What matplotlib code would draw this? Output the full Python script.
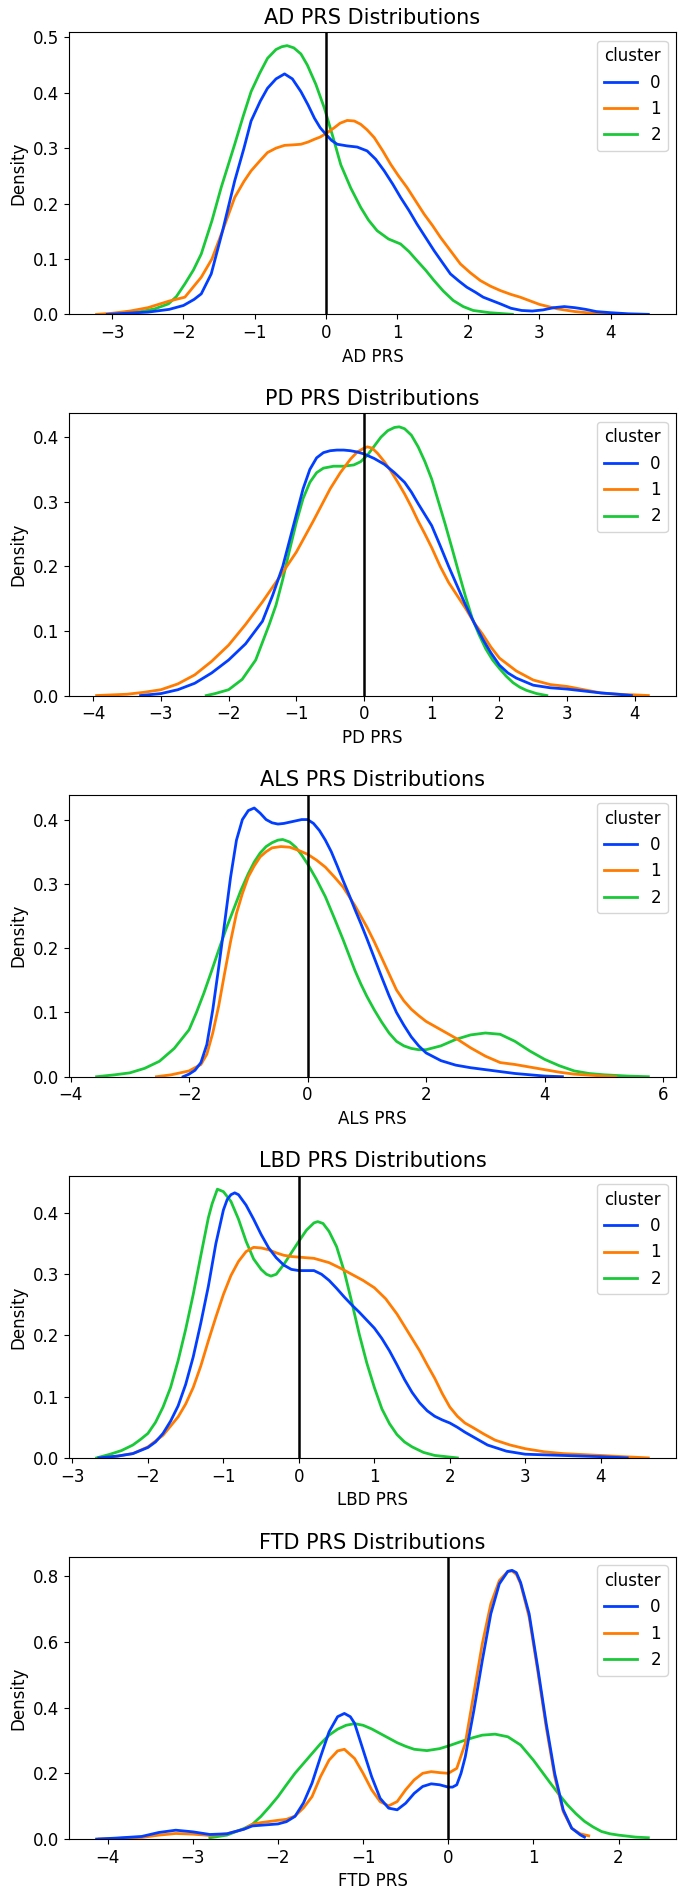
import matplotlib
matplotlib.use("Agg")
import matplotlib.pyplot as plt

# cluster colours (seaborn "bright")
colors = ["#023eff", "#ff7c00", "#1ac938"]
clusters = ["0", "1", "2"]

# density curves, (x, density) pairs per cluster

# ---- AD PRS ----
ad_c0 = [(-3.07, 0), (-2.8, 0.002), (-2.5, 0.004), (-2.2, 0.009), (-2.0, 0.016), (-1.85, 0.027), (-1.75, 0.037),
         (-1.61, 0.073), (-1.45, 0.151), (-1.28, 0.241), (-1.15, 0.3), (-1.05, 0.349), (-0.92, 0.385),
         (-0.82, 0.408), (-0.7, 0.425), (-0.58, 0.434), (-0.47, 0.425), (-0.35, 0.402), (-0.25, 0.378),
         (-0.16, 0.354), (-0.08, 0.337), (0.0, 0.325), (0.08, 0.314), (0.16, 0.307), (0.3, 0.304), (0.44, 0.302),
         (0.58, 0.295), (0.7, 0.28), (0.82, 0.259), (0.94, 0.235), (1.05, 0.211), (1.17, 0.187), (1.28, 0.163),
         (1.4, 0.139), (1.52, 0.115), (1.64, 0.093), (1.75, 0.073), (1.87, 0.06), (1.98, 0.049), (2.1, 0.04),
         (2.21, 0.031), (2.33, 0.025), (2.45, 0.019), (2.6, 0.011), (2.75, 0.007), (2.9, 0.006), (3.05, 0.008),
         (3.2, 0.012), (3.35, 0.014), (3.5, 0.012), (3.65, 0.009), (3.8, 0.005), (4.0, 0.003), (4.25, 0.001),
         (4.53, 0)]
ad_c1 = [(-3.22, 0), (-3.0, 0.002), (-2.75, 0.006), (-2.5, 0.012), (-2.2, 0.024), (-1.98, 0.031), (-1.75, 0.067),
         (-1.6, 0.1), (-1.45, 0.151), (-1.28, 0.211), (-1.15, 0.24), (-1.05, 0.259), (-0.92, 0.278),
         (-0.82, 0.292), (-0.7, 0.3), (-0.58, 0.305), (-0.45, 0.306), (-0.35, 0.307), (-0.25, 0.311),
         (-0.16, 0.316), (-0.08, 0.32), (0.0, 0.326), (0.12, 0.337), (0.2, 0.345), (0.3, 0.35), (0.4, 0.349),
         (0.49, 0.343), (0.58, 0.333), (0.68, 0.319), (0.8, 0.295), (0.91, 0.271), (1.02, 0.25), (1.14, 0.229),
         (1.26, 0.205), (1.38, 0.181), (1.5, 0.16), (1.61, 0.139), (1.75, 0.115), (1.89, 0.091), (2.03, 0.075),
         (2.17, 0.061), (2.31, 0.051), (2.45, 0.043), (2.6, 0.036), (2.73, 0.031), (3.0, 0.018), (3.25, 0.01),
         (3.5, 0.005), (3.75, 0.002), (4.0, 0.001), (4.2, 0)]
ad_c2 = [(-3.05, 0), (-2.8, 0.002), (-2.6, 0.005), (-2.4, 0.01), (-2.21, 0.019), (-2.1, 0.032), (-1.98, 0.055),
         (-1.86, 0.08), (-1.75, 0.109), (-1.6, 0.169), (-1.47, 0.229), (-1.37, 0.27), (-1.28, 0.307),
         (-1.16, 0.358), (-1.05, 0.402), (-0.93, 0.435), (-0.82, 0.462), (-0.7, 0.478), (-0.62, 0.483),
         (-0.545, 0.485), (-0.45, 0.481), (-0.35, 0.47), (-0.26, 0.45), (-0.14, 0.415), (-0.02, 0.372),
         (0.1, 0.32), (0.21, 0.27), (0.35, 0.228), (0.49, 0.193), (0.6, 0.17), (0.72, 0.151), (0.88, 0.136),
         (1.05, 0.127), (1.17, 0.113), (1.28, 0.097), (1.4, 0.08), (1.52, 0.061), (1.65, 0.042), (1.79, 0.025),
         (1.93, 0.014), (2.07, 0.007), (2.3, 0.003), (2.62, 0)]

# ---- PD PRS ----
pd_c0 = [(-3.3, 0), (-3.0, 0.003), (-2.75, 0.009), (-2.5, 0.019), (-2.25, 0.035), (-2.0, 0.055), (-1.75, 0.08),
         (-1.5, 0.115), (-1.35, 0.155), (-1.2, 0.2), (-1.1, 0.24), (-1.0, 0.28), (-0.9, 0.32), (-0.8, 0.35),
         (-0.7, 0.368), (-0.6, 0.376), (-0.5, 0.379), (-0.4, 0.38), (-0.3, 0.38), (-0.2, 0.379), (-0.1, 0.377),
         (0.0, 0.374), (0.15, 0.367), (0.3, 0.358), (0.45, 0.345), (0.6, 0.33), (0.7, 0.315), (0.8, 0.297),
         (0.9, 0.28), (1.0, 0.263), (1.125, 0.232), (1.25, 0.2), (1.375, 0.17), (1.5, 0.14), (1.625, 0.113),
         (1.75, 0.088), (1.875, 0.066), (2.0, 0.047), (2.125, 0.035), (2.25, 0.027), (2.5, 0.016), (2.75, 0.012),
         (3.0, 0.01), (3.25, 0.007), (3.5, 0.004), (3.75, 0.002), (3.95, 0)]
pd_c1 = [(-3.95, 0), (-3.5, 0.002), (-3.25, 0.005), (-3.0, 0.009), (-2.75, 0.018), (-2.5, 0.032), (-2.25, 0.053),
         (-2.0, 0.078), (-1.75, 0.11), (-1.5, 0.145), (-1.25, 0.183), (-1.0, 0.222), (-0.75, 0.27), (-0.5, 0.32),
         (-0.35, 0.345), (-0.2, 0.366), (-0.1, 0.377), (0.0, 0.383), (0.05, 0.385), (0.12, 0.383), (0.2, 0.375),
         (0.3, 0.362), (0.4, 0.347), (0.5, 0.33), (0.6, 0.312), (0.7, 0.292), (0.8, 0.27), (0.9, 0.25),
         (1.0, 0.229), (1.125, 0.2), (1.25, 0.175), (1.375, 0.155), (1.5, 0.135), (1.625, 0.113), (1.75, 0.095),
         (1.875, 0.075), (2.0, 0.058), (2.25, 0.038), (2.5, 0.024), (2.75, 0.017), (3.0, 0.014), (3.25, 0.009),
         (3.5, 0.004), (3.75, 0.002), (4.0, 0.001), (4.2, 0)]
pd_c2 = [(-2.33, 0), (-2.2, 0.003), (-2.0, 0.009), (-1.8, 0.025), (-1.6, 0.055), (-1.4, 0.11), (-1.3, 0.14),
         (-1.2, 0.18), (-1.1, 0.225), (-1.0, 0.268), (-0.9, 0.305), (-0.8, 0.33), (-0.7, 0.345), (-0.6, 0.352),
         (-0.45, 0.355), (-0.3, 0.355), (-0.15, 0.357), (-0.05, 0.362), (0.05, 0.372), (0.15, 0.386), (0.25, 0.4),
         (0.35, 0.41), (0.45, 0.415), (0.52, 0.416), (0.6, 0.413), (0.7, 0.403), (0.8, 0.385), (0.9, 0.362),
         (1.0, 0.335), (1.1, 0.3), (1.2, 0.265), (1.3, 0.228), (1.4, 0.19), (1.5, 0.153), (1.6, 0.119),
         (1.7, 0.094), (1.8, 0.072), (1.9, 0.055), (2.0, 0.042), (2.1, 0.03), (2.2, 0.02), (2.3, 0.013),
         (2.4, 0.008), (2.55, 0.003), (2.7, 0)]

# ---- ALS PRS ----
als_c0 = [(-2.1, 0), (-2.0, 0.004), (-1.9, 0.01), (-1.8, 0.022), (-1.7, 0.05), (-1.6, 0.104), (-1.5, 0.17),
          (-1.4, 0.239), (-1.3, 0.31), (-1.2, 0.368), (-1.1, 0.4), (-1.0, 0.414), (-0.9, 0.418), (-0.8, 0.41),
          (-0.7, 0.4), (-0.6, 0.395), (-0.5, 0.393), (-0.4, 0.394), (-0.3, 0.396), (-0.2, 0.398), (-0.1, 0.4),
          (0.0, 0.4), (0.1, 0.394), (0.2, 0.383), (0.3, 0.368), (0.4, 0.35), (0.5, 0.328), (0.6, 0.305),
          (0.7, 0.283), (0.8, 0.26), (0.9, 0.238), (1.0, 0.215), (1.125, 0.185), (1.25, 0.155), (1.375, 0.126),
          (1.5, 0.1), (1.625, 0.08), (1.75, 0.062), (1.875, 0.048), (2.0, 0.037), (2.25, 0.025), (2.5, 0.018),
          (2.75, 0.014), (3.0, 0.011), (3.25, 0.008), (3.5, 0.005), (3.75, 0.003), (4.0, 0.001), (4.3, 0)]
als_c1 = [(-2.55, 0), (-2.3, 0.003), (-2.0, 0.009), (-1.8, 0.019), (-1.7, 0.035), (-1.6, 0.068), (-1.5, 0.11),
          (-1.4, 0.161), (-1.3, 0.21), (-1.2, 0.254), (-1.1, 0.285), (-1.0, 0.311), (-0.9, 0.328), (-0.8, 0.342),
          (-0.7, 0.35), (-0.6, 0.356), (-0.45, 0.358), (-0.3, 0.357), (-0.15, 0.352), (0.0, 0.346),
          (0.15, 0.337), (0.3, 0.326), (0.45, 0.311), (0.6, 0.295), (0.8, 0.266), (1.0, 0.233), (1.125, 0.21),
          (1.25, 0.185), (1.375, 0.16), (1.5, 0.135), (1.625, 0.118), (1.75, 0.105), (1.875, 0.095),
          (2.0, 0.086), (2.25, 0.073), (2.5, 0.06), (2.75, 0.045), (3.0, 0.032), (3.25, 0.022), (3.5, 0.019),
          (3.75, 0.015), (4.0, 0.011), (4.25, 0.007), (4.5, 0.004), (5.0, 0.001), (5.2, 0)]
als_c2 = [(-3.56, 0), (-3.25, 0.003), (-3.0, 0.006), (-2.75, 0.013), (-2.5, 0.024), (-2.25, 0.044), (-2.0, 0.073),
          (-1.875, 0.1), (-1.75, 0.13), (-1.625, 0.163), (-1.5, 0.197), (-1.375, 0.23), (-1.25, 0.26),
          (-1.125, 0.29), (-1.0, 0.316), (-0.9, 0.334), (-0.8, 0.348), (-0.7, 0.358), (-0.6, 0.364),
          (-0.5, 0.368), (-0.42, 0.369), (-0.3, 0.365), (-0.2, 0.357), (-0.1, 0.345), (0.0, 0.331),
          (0.15, 0.307), (0.3, 0.28), (0.45, 0.247), (0.6, 0.213), (0.7, 0.189), (0.8, 0.165), (0.9, 0.144),
          (1.0, 0.125), (1.125, 0.104), (1.25, 0.085), (1.375, 0.068), (1.5, 0.055), (1.625, 0.048),
          (1.75, 0.044), (1.875, 0.042), (2.0, 0.042), (2.25, 0.048), (2.5, 0.058), (2.75, 0.065), (3.0, 0.068),
          (3.25, 0.066), (3.5, 0.055), (3.75, 0.04), (4.0, 0.027), (4.25, 0.017), (4.5, 0.009), (4.75, 0.005),
          (5.0, 0.003), (5.4, 0.001), (5.75, 0)]

# ---- LBD PRS ----
lbd_c0 = [(-2.65, 0), (-2.4, 0.003), (-2.2, 0.007), (-2.0, 0.017), (-1.9, 0.026), (-1.8, 0.04), (-1.7, 0.06),
          (-1.6, 0.085), (-1.5, 0.12), (-1.4, 0.165), (-1.3, 0.22), (-1.2, 0.28), (-1.1, 0.35), (-1.0, 0.405),
          (-0.95, 0.422), (-0.9, 0.43), (-0.85, 0.433), (-0.8, 0.43), (-0.7, 0.413), (-0.6, 0.39), (-0.5, 0.365),
          (-0.4, 0.343), (-0.3, 0.327), (-0.2, 0.315), (-0.1, 0.308), (0.0, 0.306), (0.1, 0.306), (0.2, 0.306),
          (0.3, 0.3), (0.4, 0.29), (0.5, 0.277), (0.6, 0.263), (0.7, 0.25), (0.8, 0.238), (0.9, 0.225),
          (1.0, 0.212), (1.1, 0.195), (1.2, 0.175), (1.3, 0.152), (1.4, 0.128), (1.5, 0.107), (1.6, 0.09),
          (1.7, 0.077), (1.8, 0.068), (1.9, 0.062), (2.0, 0.057), (2.1, 0.05), (2.2, 0.042), (2.3, 0.035),
          (2.4, 0.028), (2.5, 0.021), (2.75, 0.011), (3.0, 0.006), (3.5, 0.004), (4.0, 0.002), (4.35, 0)]
lbd_c1 = [(-2.6, 0), (-2.4, 0.003), (-2.2, 0.007), (-2.0, 0.018), (-1.8, 0.037), (-1.6, 0.067), (-1.5, 0.088),
          (-1.4, 0.115), (-1.3, 0.15), (-1.2, 0.191), (-1.1, 0.23), (-1.0, 0.267), (-0.9, 0.298), (-0.8, 0.321),
          (-0.7, 0.337), (-0.6, 0.344), (-0.5, 0.343), (-0.4, 0.34), (-0.3, 0.335), (-0.2, 0.331), (-0.1, 0.329),
          (0.0, 0.328), (0.2, 0.326), (0.4, 0.319), (0.55, 0.31), (0.7, 0.3), (0.85, 0.29), (1.0, 0.278),
          (1.15, 0.26), (1.3, 0.235), (1.45, 0.205), (1.6, 0.175), (1.7, 0.152), (1.8, 0.13), (1.9, 0.105),
          (2.0, 0.083), (2.1, 0.068), (2.2, 0.057), (2.3, 0.05), (2.45, 0.039), (2.6, 0.029), (2.8, 0.021),
          (3.0, 0.015), (3.25, 0.01), (3.5, 0.007), (4.0, 0.004), (4.3, 0.002), (4.63, 0)]
lbd_c2 = [(-2.68, 0), (-2.5, 0.006), (-2.35, 0.012), (-2.2, 0.021), (-2.1, 0.03), (-2.0, 0.04), (-1.9, 0.058),
          (-1.8, 0.083), (-1.7, 0.115), (-1.6, 0.159), (-1.5, 0.21), (-1.4, 0.267), (-1.3, 0.33), (-1.2, 0.392),
          (-1.15, 0.415), (-1.08, 0.439), (-1.0, 0.435), (-0.9, 0.419), (-0.8, 0.39), (-0.7, 0.354),
          (-0.6, 0.325), (-0.5, 0.308), (-0.43, 0.3), (-0.37, 0.297), (-0.3, 0.3), (-0.2, 0.316), (-0.1, 0.335),
          (0.0, 0.354), (0.1, 0.372), (0.2, 0.384), (0.25, 0.386), (0.32, 0.383), (0.4, 0.37), (0.5, 0.345),
          (0.6, 0.305), (0.7, 0.255), (0.8, 0.202), (0.9, 0.155), (1.0, 0.115), (1.1, 0.08), (1.2, 0.056),
          (1.3, 0.038), (1.4, 0.026), (1.5, 0.018), (1.65, 0.009), (1.8, 0.004), (2.1, 0)]

# ---- FTD PRS ----
ftd_c0 = [(-4.13, 0), (-3.9, 0.003), (-3.6, 0.008), (-3.4, 0.02), (-3.2, 0.027), (-3.0, 0.022), (-2.8, 0.014),
          (-2.6, 0.016), (-2.4, 0.03), (-2.3, 0.04), (-2.0, 0.046), (-1.9, 0.053), (-1.8, 0.069), (-1.7, 0.11),
          (-1.6, 0.17), (-1.5, 0.25), (-1.4, 0.326), (-1.3, 0.372), (-1.22, 0.382), (-1.15, 0.372),
          (-1.1, 0.352), (-1.0, 0.271), (-0.9, 0.19), (-0.8, 0.124), (-0.7, 0.094), (-0.6, 0.089), (-0.5, 0.109),
          (-0.4, 0.139), (-0.3, 0.16), (-0.2, 0.168), (-0.1, 0.165), (0.0, 0.158), (0.05, 0.158), (0.1, 0.165),
          (0.15, 0.2), (0.2, 0.25), (0.3, 0.39), (0.4, 0.543), (0.5, 0.685), (0.6, 0.776), (0.7, 0.814),
          (0.75, 0.817), (0.8, 0.81), (0.85, 0.78), (0.95, 0.685), (1.05, 0.523), (1.15, 0.352), (1.25, 0.2),
          (1.35, 0.089), (1.45, 0.033), (1.55, 0.013), (1.6, 0.006)]
ftd_c1 = [(-4.1, 0), (-3.9, 0.002), (-3.6, 0.005), (-3.4, 0.012), (-3.2, 0.017), (-3.0, 0.015), (-2.8, 0.011),
          (-2.6, 0.016), (-2.4, 0.03), (-2.3, 0.045), (-2.2, 0.05), (-2.0, 0.057), (-1.9, 0.06), (-1.8, 0.07),
          (-1.7, 0.095), (-1.6, 0.129), (-1.5, 0.19), (-1.4, 0.24), (-1.3, 0.268), (-1.22, 0.273),
          (-1.1, 0.245), (-1.0, 0.2), (-0.9, 0.15), (-0.8, 0.114), (-0.7, 0.101), (-0.6, 0.114), (-0.5, 0.15),
          (-0.4, 0.18), (-0.3, 0.2), (-0.2, 0.205), (-0.1, 0.202), (0.0, 0.2), (0.1, 0.215), (0.2, 0.291),
          (0.3, 0.442), (0.4, 0.594), (0.5, 0.715), (0.6, 0.786), (0.7, 0.814), (0.75, 0.815), (0.8, 0.805),
          (0.85, 0.776), (0.95, 0.675), (1.05, 0.513), (1.15, 0.341), (1.25, 0.19), (1.35, 0.084),
          (1.45, 0.033), (1.55, 0.016), (1.65, 0.01)]
ftd_c2 = [(-2.8, 0.004), (-2.6, 0.012), (-2.4, 0.032), (-2.3, 0.045), (-2.2, 0.069), (-2.1, 0.098),
          (-2.0, 0.129), (-1.9, 0.165), (-1.8, 0.2), (-1.7, 0.23), (-1.6, 0.26), (-1.5, 0.29), (-1.4, 0.316),
          (-1.3, 0.334), (-1.2, 0.346), (-1.1, 0.351), (-1.0, 0.346), (-0.9, 0.335), (-0.8, 0.321),
          (-0.7, 0.307), (-0.6, 0.293), (-0.5, 0.282), (-0.4, 0.273), (-0.25, 0.269), (-0.1, 0.275),
          (0.0, 0.283), (0.1, 0.292), (0.2, 0.301), (0.3, 0.309), (0.4, 0.316), (0.55, 0.319), (0.7, 0.311),
          (0.85, 0.286), (1.0, 0.24), (1.1, 0.205), (1.2, 0.17), (1.3, 0.136), (1.4, 0.104), (1.5, 0.077),
          (1.6, 0.054), (1.7, 0.037), (1.8, 0.023), (1.9, 0.016), (2.0, 0.012), (2.2, 0.006), (2.35, 0.004)]

panels = [
    ("AD", [ad_c0, ad_c1, ad_c2]),
    ("PD", [pd_c0, pd_c1, pd_c2]),
    ("ALS", [als_c0, als_c1, als_c2]),
    ("LBD", [lbd_c0, lbd_c1, lbd_c2]),
    ("FTD", [ftd_c0, ftd_c1, ftd_c2]),
]

plt.rcParams['font.family'] = ['DejaVu Sans']
plt.rcParams['font.size'] = 12

fig, axes = plt.subplots(5, 1, figsize=(6.8, 18.94), dpi=100)
fig.subplots_adjust(left=0.1015, right=0.994, top=0.983, bottom=0.029, hspace=0.351)

for ax, (name, curves) in zip(axes, panels):
    handles = {}
    # seaborn draws the hue levels in reverse order
    for i in [2, 1, 0]:
        x = [p[0] for p in curves[i]]
        y = [p[1] for p in curves[i]]
        line, = ax.plot(x, y, color=colors[i], lw=2, label=clusters[i])
        handles[i] = line
    ax.set_ylim(bottom=0)
    ax.axvline(0, color="black", lw=1.8)
    ax.set_title(f"{name} PRS Distributions", fontsize=15)
    ax.set_xlabel(f"{name} PRS", fontsize=12)
    ax.set_ylabel("Density", fontsize=12)
    ax.tick_params(labelsize=12)
    ax.legend([handles[i] for i in range(3)], clusters, title="cluster", loc="upper right",
              fontsize=12, title_fontsize=12)

plt.savefig("out.png", dpi=100)
